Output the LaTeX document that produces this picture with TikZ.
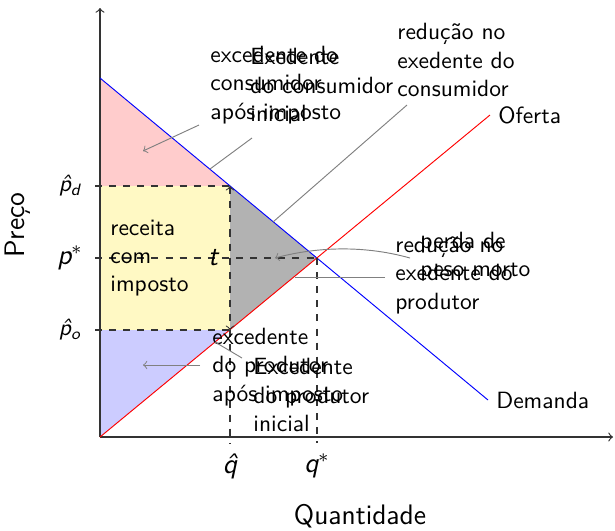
\documentclass[tikz,border=0pt]{standalone}
\usepackage{fontspec}
\definecolor{ylw}{RGB}{255,249,196}
\definecolor{pnk}{RGB}{255,204,204}
\definecolor{lav}{RGB}{204,204,255}
\newcommand{\sfi}[1]{{\sffamily\itshape #1}}
\begin{document}
\begin{tikzpicture}[x=0.4255pt,y=-0.4255pt,
  every node/.style={font=\sffamily},
  txt/.style={inner sep=0pt, anchor=west, align=left},
  note/.style={gray, line width=0.4pt},
  dsh/.style={dashed, black!80, line width=0.45pt},
  axis/.style={->, black!80, line width=0.5pt}]
\useasboundingbox (0,0) rectangle (615,530);
% key points
\coordinate (O) at (100,437);
\coordinate (Ytop) at (100,8);
\coordinate (Xend) at (613,437);
\coordinate (D0) at (100,78);
\coordinate (D1) at (488,400);
\coordinate (S1) at (490,115);
\coordinate (E) at (317,258);
\coordinate (A) at (230,186);
\coordinate (B) at (230,330);
\coordinate (Pd) at (100,186);
\coordinate (Po) at (100,330);
\coordinate (Ps) at (100,258);
\coordinate (Pdt) at (95,186);
\coordinate (Pot) at (95,330);
\coordinate (Pst) at (95,258);
\coordinate (Qht) at (230,443);
\coordinate (Qst) at (317,443);
% fills
\fill[pnk] (D0) -- (A) -- (Pd) -- cycle;
\fill[ylw] (Pd) rectangle (B);
\fill[lav] (Po) -- (B) -- (O) -- cycle;
\fill[gray!60] (A) -- (E) -- (B) -- cycle;
% axes
\draw[axis] (O) -- (Ytop);
\draw[axis] (O) -- (Xend);
% curves
\draw[blue] (D0) -- (D1) node[right, black] (dem) {Demanda};
\draw[red] (O) -- (S1) node[right, black] (ofe) {Oferta};
% dashed guides
\draw[dsh] (Pdt) -- (A);
\draw[dsh] (Pot) -- (B);
\draw[dsh] (Pst) -- (E);
\draw[dsh] (E) -- (Qst);
\draw[dsh] (B) -- (Qht);
\draw[dsh, <->] (A) -- (B);
% axis labels
\node (tl) at (213,258) {\large\sfi{t}};
\node (pdl) at (70,186) {\sfi{\^{p}}\textsubscript{\sfi{d}}};
\node (psl) at (70,258) {\large\sfi{p}$^*$};
\node (pol) at (70,330) {\sfi{\^{p}}\textsubscript{\sfi{o}}};
\node (qhl) at (230,466) {\large\sfi{\^{q}}};
\node (qsl) at (317,466) {\large\sfi{q}$^*$};
\node[rotate=90] (preco) at (18,225) {\large Preço};
\node (quant) at (360,516) {\large Quantidade};
% text notes
\node[txt] (T1) at (210,85) {excedente do\\consumidor\\após imposto};
\node[txt] (T2) at (250,85) {Exedente\\do consumidor\\inicial};
\node[txt] (T3) at (397,60) {redução no\\exedente do\\consumidor};
\node[txt] (T4) at (110,258) {receita\\com\\imposto};
\node[txt] (T5) at (395,275) {redução no\\exedente do\\produtor};
\node[txt] (T6) at (420,257) {perda de\\peso morto};
\node[txt] (T7) at (212,367) {excedente\\do produtor\\após imposto};
\node[txt] (T8) at (253,395) {Excedente\\do produtor\\inicial};
% connector ends
\coordinate (c1s) at (199,125);
\coordinate (c1e) at (143,151);
\coordinate (c2s) at (252,138);
\coordinate (c2e) at (210,169);
\coordinate (c3s) at (407,105);
\coordinate (c3e) at (273,222);
\coordinate (c5s) at (385,277);
\coordinate (c5e) at (295,277);
\coordinate (c6s) at (410,258);
\coordinate (c6e) at (275,258);
\coordinate (c7s) at (200,365);
\coordinate (c7e) at (143,365);
\coordinate (c8s) at (242,358);
\coordinate (c8e) at (215,342);
\draw[note, ->] (c1s) -- (c1e);
\draw[note] (c2s) -- (c2e);
\draw[note] (c3s) -- (c3e);
\draw[note] (c5s) -- (c5e);
\draw[note, ->] (c6s) .. controls (360,244) and (312,248) .. (c6e);
\draw[note, ->] (c7s) -- (c7e);
\draw[note] (c8s) -- (c8e);
\end{tikzpicture}
\end{document}
